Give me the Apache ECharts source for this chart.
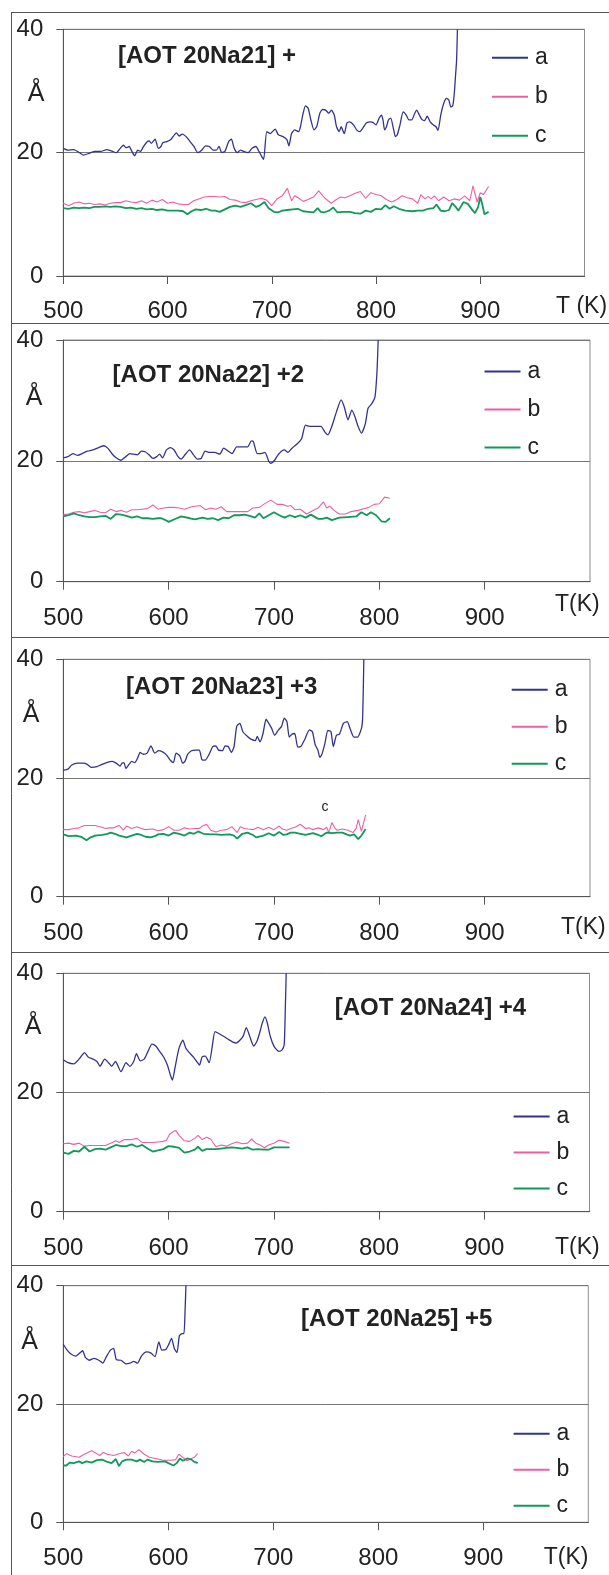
<!DOCTYPE html>
<html><head><meta charset="utf-8">
<script src="https://cdn.jsdelivr.net/npm/echarts@6/dist/echarts.min.js"></script>
<style>html,body{margin:0;padding:0;background:#fff}#c{width:609px;height:1575px}</style>
</head><body><div id="c"></div>
<script>
// ---- data: [T (K), spacing (Å)] ----
const titles = ['[AOT 20Na21] +', '[AOT 20Na22] +2', '[AOT 20Na23] +3', '[AOT 20Na24] +4', '[AOT 20Na25] +5'];
const xTickValues = [500, 600, 700, 800, 900];
const seriesNames = ['a', 'b', 'c'];

const p1a = [[500,20.7],[504.5,20.4],[510,20.5],[515.6,20.0],[519.3,19.6],[525,19.9],[530.5,20.2],[536,20.2],[541.6,20.5],[547.2,20.2],[551,20.0],[554.6,20.7],[557.6,21.2],[560.2,20.8],[563.2,21.0],[565.8,20.2],[568.4,19.5],[571.4,20.4],[574,20.2],[577,21.0],[580.7,21.8],[582.5,21.9],[584.4,21.5],[588.1,22.2],[591.1,20.7],[593.7,21.0],[595.5,21.6],[599.3,21.8],[603,22.1],[608.6,23.2],[611.2,22.7],[614.1,23.0],[617.8,22.6],[621.6,21.8],[625.3,21.0],[629,20.0],[632.7,20.4],[636.4,21.1],[640.1,21.0],[643.9,20.4],[646.8,20.4],[649.4,21.0],[652,20.0],[655,20.2],[658.7,21.8],[661.3,22.2],[663.9,20.7],[666.9,20.0],[669.9,20.4],[672.9,20.2],[677.3,20.0],[681,20.7],[684.8,21.0],[687.7,20.2],[690.3,19.4],[692.2,18.9],[695.2,23.4],[698.5,23.1],[703.3,23.8],[706.3,22.9],[710.8,22.6],[714.5,22.1],[716.4,21.1],[719,23.1],[722,23.7],[725.7,23.4],[727.5,24.2],[730.1,26.4],[732.3,27.6],[734.9,27.2],[737.5,25.3],[740.5,23.7],[743.1,24.2],[746.1,26.4],[748.7,27.0],[751.7,26.9],[754.6,26.4],[757.2,26.9],[759.9,26.1],[762.1,24.2],[764.7,23.4],[766.5,24.2],[769.5,23.1],[772.1,24.8],[774.7,25.0],[778.4,24.5],[781.4,23.7],[784.4,23.4],[787,23.9],[790.7,24.8],[794.4,25.0],[797,24.9],[800,24.5],[803,25.6],[805.2,26.1],[806.7,25.3],[808.2,23.7],[810,24.2],[811.9,25.3],[814.1,25.6],[816.7,23.9],[818.6,22.6],[820.4,22.9],[823,24.5],[826,26.6],[829,26.1],[831.6,25.3],[834.2,25.3],[837.2,26.4],[839,26.9],[841.6,26.1],[843.9,25.4],[846.5,25.2],[849.1,25.9],[852,25.0],[855,24.5],[857.6,24.2],[859.5,23.6],[862.1,26.1],[865,28.0],[867.7,28.8],[869.9,28.5],[871.7,27.4],[873.6,27.6],[875.1,29.6],[876.2,32.3],[877.3,35.0],[878.1,40]];
const p1b = [[500,11.8],[505,11.4],[510,11.8],[515,12.0],[520,11.7],[525,11.8],[530,11.6],[535,11.7],[540,11.5],[545,11.8],[550,11.9],[555,11.9],[560,12.2],[565,12.0],[570,11.9],[575,12.2],[580,11.8],[585,12.3],[590,12.0],[595,12.4],[600,11.8],[605,12.0],[610,11.7],[615,11.6],[620,11.6],[625,12.2],[630,12.5],[635,12.8],[640,12.9],[645,12.9],[650,12.8],[655,12.9],[660,12.4],[665,12.3],[670,12.0],[675,11.9],[680,12.2],[685,12.4],[690,12.6],[695,12.3],[700,11.4],[705,12.5],[710,13.0],[715,14.2],[719,12.2],[722,13.0],[726,12.6],[730,12.1],[735,12.4],[740,12.8],[745,13.8],[750,12.8],[754,12.2],[757,11.8],[762,12.4],[766,12.8],[770,12.7],[775,13.0],[780,13.4],[785,13.7],[790,12.6],[795,13.5],[800,13.2],[805,13.0],[810,12.4],[815,12.0],[820,12.4],[825,13.0],[830,12.7],[835,12.5],[840,11.8],[843,13.2],[847,12.5],[850,12.9],[853,12.5],[856,13.0],[860,12.2],[865,12.8],[870,12.2],[875,12.5],[880,12.3],[885,13.0],[890,12.2],[893,14.6],[897,12.0],[900,13.5],[903,13.2],[908,14.5]];
const p1c = [[500,11.0],[505,10.9],[510,11.1],[515,11.0],[520,11.1],[525,11.0],[530,11.2],[535,11.2],[540,11.3],[545,11.2],[550,11.3],[555,11.2],[560,11.0],[565,11.1],[570,10.9],[575,11.0],[580,10.8],[585,10.9],[590,10.7],[595,10.8],[600,10.6],[605,10.6],[610,10.6],[615,10.5],[619,10.0],[623,10.5],[627,10.8],[632,10.7],[637,10.9],[642,10.6],[646,10.6],[650,10.4],[655,10.8],[660,11.2],[665,11.4],[670,11.2],[675,11.5],[680,11.8],[685,11.2],[689,11.5],[693,12.0],[697,11.0],[702,10.4],[706,10.3],[710,10.6],[715,10.7],[720,10.8],[725,10.9],[730,10.5],[735,10.4],[740,10.3],[744,11.0],[747,10.4],[750,10.3],[755,10.6],[759,11.1],[763,10.3],[768,10.4],[775,10.4],[780,10.2],[785,10.1],[790,10.6],[795,10.4],[800,10.9],[805,10.8],[809,11.5],[813,10.9],[817,11.3],[822,10.9],[828,10.6],[835,10.5],[840,10.6],[845,10.6],[850,10.9],[855,11.0],[858,11.6],[862,10.6],[866,10.5],[870,10.7],[873,11.8],[876,11.3],[879,10.6],[884,12.0],[888,11.7],[892,10.8],[895,10.2],[898,11.2],[900,12.8],[902,11.6],[904,10.0],[908,10.4]];

const p2a = [[500,20.5],[504.4,20.7],[509.2,21.2],[513.6,20.9],[518,21.2],[522.7,21.6],[528.2,21.8],[533.7,22.2],[538.5,22.5],[542.2,22.1],[546.6,21.1],[550.2,20.5],[554.6,20.1],[559.4,20.7],[563.1,21.2],[566.7,21.1],[570.4,21.0],[574.1,21.6],[577.7,21.5],[581.4,21.0],[585.1,20.4],[588.7,20.7],[591.3,21.1],[594.2,20.5],[597.9,21.8],[601.6,22.2],[605.2,21.8],[608.9,20.7],[611.8,20.3],[615.5,21.0],[619.9,21.8],[623.6,21.0],[627.2,20.3],[630.9,20.4],[634.6,21.6],[638.2,21.4],[643.7,21.4],[648.5,21.1],[652.2,22.1],[656.6,21.6],[660.2,21.2],[664.6,22.3],[669.4,22.3],[674.9,22.3],[678.6,23.3],[680.4,23.2],[684.1,21.2],[687.7,21.2],[691.4,21.4],[695.1,19.9],[696.9,19.6],[700.6,20.1],[704.3,21.1],[709.8,21.8],[713.4,21.4],[717.1,22.1],[722.6,22.9],[726.3,23.7],[729.9,25.9],[733.6,25.7],[739,25.7],[744.6,25.7],[748.2,24.8],[751.2,24.3],[754.9,25.7],[759.3,28.1],[763.7,30.1],[766.6,29.0],[770.3,26.8],[773.9,28.4],[776.9,27.3],[779.4,25.9],[783.1,24.6],[786.8,26.2],[789.3,28.7],[793,29.5],[795.9,30.6],[797.8,34.8],[798.9,40]];
const p2b = [[500,11.1],[505,11.2],[510,11.5],[515,11.6],[520,11.4],[525,11.6],[530,11.8],[535,11.5],[540,11.4],[545,12.0],[550,11.6],[555,11.8],[560,11.5],[565,11.9],[570,11.9],[575,12.0],[580,12.1],[585,12.7],[590,12.0],[595,12.2],[600,12.3],[605,12.3],[610,12.2],[615,12.0],[622,12.4],[630,12.6],[635,11.9],[640,12.2],[645,12.0],[650,12.4],[655,11.6],[660,11.6],[665,11.6],[670,11.6],[675,11.6],[680,12.2],[686,12.3],[692,13.0],[697,13.5],[703,12.8],[708,12.8],[713,12.5],[716,12.6],[720,11.9],[725,12.0],[731,11.2],[737,11.8],[742,12.2],[747,13.2],[750,12.2],[753,12.5],[757,11.8],[762,11.2],[768,11.2],[773,11.6],[780,11.8],[786,12.1],[790,12.3],[795,12.8],[800,12.9],[805,14.0],[810,13.8]];
const p2c = [[500,10.8],[505,11.0],[510,11.3],[515,11.0],[520,10.8],[525,10.7],[530,10.7],[535,10.8],[540,10.9],[545,10.4],[550,11.2],[555,11.1],[560,10.9],[565,10.6],[570,10.8],[575,10.5],[580,10.5],[585,10.4],[590,10.5],[593,10.5],[597,10.2],[600,9.9],[605,10.3],[612,10.8],[620,10.5],[625,10.3],[632,10.6],[637,10.4],[642,10.5],[647,10.2],[652,10.6],[657,10.5],[662,11.0],[667,11.0],[672,11.1],[677,10.9],[682,10.6],[686,11.3],[690,10.5],[695,11.0],[700,11.5],[705,11.0],[710,10.6],[715,11.0],[720,10.7],[725,11.0],[730,10.6],[735,11.1],[742,10.4],[746,10.4],[750,10.6],[755,10.2],[762,10.6],[770,10.7],[778,10.8],[783,11.5],[788,11.0],[792,11.5],[797,11.0],[802,10.0],[806,9.9],[810,10.5]];

const p3a = [[500,21.3],[504.4,21.5],[508.1,22.2],[513.6,22.5],[519.1,22.5],[522.7,22.3],[526.4,21.8],[531.9,21.9],[535.6,22.2],[541.1,22.6],[546.6,22.8],[550.2,22.5],[553.9,22.0],[555.7,22.5],[557.6,22.6],[559.4,21.6],[562,22.2],[564.9,22.8],[567.8,22.6],[570.4,23.3],[573,24.3],[575.9,24.0],[579.6,24.2],[583.2,25.4],[586.9,24.2],[590.6,24.6],[594.2,24.4],[597.9,23.9],[601.6,23.0],[604.5,22.6],[607.1,24.2],[610.7,23.7],[613.3,22.5],[615.5,22.8],[618.1,24.0],[621.7,24.6],[625.4,24.7],[629.1,24.7],[631.6,23.1],[634.6,23.0],[638.2,23.9],[641.9,25.3],[644.8,25.4],[647.4,24.7],[651.1,24.6],[653.6,25.4],[656.6,25.3],[659.5,24.3],[662.1,25.3],[664.6,28.7],[667.6,29.2],[670.5,27.8],[674.9,27.0],[678.6,26.5],[682.3,26.3],[684.1,27.0],[686.7,26.1],[689.6,27.5],[692.5,29.9],[695.1,29.2],[697.7,28.4],[700.6,27.2],[704.3,28.1],[707.2,28.7],[709.8,30.1],[712.3,29.5],[714.5,26.9],[717.1,27.4],[719.7,27.5],[722.6,25.2],[725.5,25.3],[729.2,26.5],[733.6,28.1],[736.5,27.8],[739.1,25.6],[741.7,24.7],[743.5,23.5],[745.3,23.9],[748.3,25.8],[751.2,28.0],[754.1,27.8],[756.3,25.3],[759.3,27.2],[762.2,27.4],[765.9,29.2],[769.5,29.5],[772.1,28.4],[775.8,26.9],[779.4,26.9],[783.1,28.4],[784.2,30.3],[785.3,40]];
const p3b = [[500,11.3],[505,11.3],[510,11.5],[515,11.6],[520,12.0],[525,12.0],[530,12.0],[535,11.8],[540,11.5],[544,11.6],[548,11.6],[553,12.0],[557,11.2],[560,11.9],[565,11.5],[570,11.8],[574,11.5],[578,11.3],[585,11.4],[590,11.1],[595,11.3],[600,11.8],[605,11.2],[610,11.2],[615,11.6],[620,11.4],[625,11.5],[629,11.5],[632,11.9],[636,12.2],[640,11.2],[645,10.9],[650,11.2],[655,11.3],[660,11.8],[665,10.8],[668,11.8],[672,11.5],[675,11.4],[680,11.3],[685,11.7],[690,11.3],[695,11.7],[700,11.3],[705,11.9],[708,11.4],[712,11.2],[716,11.5],[720,11.7],[725,12.2],[730,11.5],[733,11.6],[737,11.3],[742,11.6],[747,11.3],[750,11.7],[752,10.8],[755,12.5],[758,11.5],[760,11.2],[765,11.4],[770,11.2],[775,10.8],[778,11.5],[780,13.0],[783,11.0],[787,13.8]];
const p3c = [[500,10.5],[505,10.2],[512,10.3],[517,10.1],[522,9.5],[526,10.0],[530,10.3],[537,10.4],[542,10.6],[545,10.8],[549,10.6],[553,10.3],[560,10.0],[565,10.3],[570,10.6],[574,10.4],[578,10.1],[583,10.0],[587,10.2],[590,10.5],[595,10.6],[600,10.3],[605,10.8],[610,10.6],[615,10.3],[620,10.8],[624,10.6],[628,11.0],[633,10.6],[640,10.5],[645,10.5],[650,10.4],[658,10.5],[662,10.3],[665,9.8],[670,10.6],[675,10.8],[680,10.4],[683,10.0],[690,10.3],[695,10.7],[700,10.3],[705,10.9],[709,10.4],[712,10.5],[716,10.8],[720,10.8],[725,10.6],[730,10.4],[734,10.6],[737,10.7],[742,10.4],[745,10.2],[750,10.8],[755,10.7],[760,10.8],[765,10.8],[769,10.5],[772,10.3],[776,10.5],[780,9.7],[783,10.3],[787,11.4]];

const p4a = [[500,25.5],[504.4,25.0],[509.9,24.8],[515.4,25.7],[520.2,26.7],[523.9,25.9],[528.3,25.6],[532,25.2],[534.9,24.4],[539.3,25.6],[543,25.0],[546,24.4],[549.6,25.2],[554.8,23.5],[559.6,25.0],[563.2,24.4],[566.9,25.2],[569.5,26.5],[573.2,25.3],[576.8,25.6],[580.5,26.9],[584.2,28.1],[587.9,27.8],[591.5,26.9],[595.2,26.0],[598.9,24.6],[601.8,22.9],[603.7,22.1],[606.3,24.3],[609.9,27.4],[613.6,28.8],[616.5,27.4],[620.2,26.6],[623.9,25.9],[627.6,25.0],[629.4,24.6],[632,26.0],[634.9,26.1],[638.6,25.0],[641.5,27.7],[644.1,30.2],[647.8,29.9],[652.6,29.4],[657,28.9],[660.7,28.5],[664.3,28.3],[668,28.8],[671,29.5],[673.9,30.9],[677.2,29.4],[680.9,27.8],[683.8,28.5],[686.4,29.9],[689,31.6],[691.5,32.7],[693.8,31.7],[696.7,29.4],[700.4,27.7],[704.8,26.9],[707.7,27.1],[709.9,28.0],[711,34.4],[711.8,40]];
const p4b = [[500,11.4],[505,11.5],[510,11.3],[515,11.5],[520,11.0],[525,11.1],[530,11.1],[535,11.1],[540,11.1],[545,11.5],[550,11.9],[553,11.6],[558,12.1],[565,12.1],[570,12.3],[575,11.6],[580,11.6],[585,11.6],[590,11.7],[595,11.8],[598,12.0],[601,13.0],[605,13.5],[607,13.6],[610,12.8],[615,11.9],[620,11.8],[625,12.3],[628,12.8],[632,12.1],[636,12.5],[640,12.2],[645,10.9],[650,11.2],[655,11.0],[660,11.4],[665,11.7],[670,11.4],[675,11.5],[679,12.2],[683,11.5],[688,11.1],[691,10.7],[695,11.2],[700,11.5],[705,12.0],[710,11.8],[715,11.5]];
const p4c = [[500,9.9],[505,9.7],[510,10.2],[515,10.1],[520,10.9],[525,10.1],[530,10.5],[535,10.6],[540,10.4],[545,10.8],[550,11.2],[555,11.0],[560,11.0],[565,11.3],[570,10.9],[575,11.2],[580,10.6],[585,10.1],[590,10.3],[595,10.5],[600,11.0],[605,10.9],[610,10.7],[615,9.9],[620,10.1],[625,10.4],[628,10.9],[632,10.2],[636,10.5],[640,10.5],[645,10.5],[650,10.6],[655,10.7],[660,10.8],[665,10.7],[670,10.6],[675,10.8],[680,10.4],[685,10.5],[690,10.4],[695,10.4],[700,10.8],[705,10.8],[715,10.8]];

const p5a = [[500,30.1],[503.3,29.2],[507,28.5],[511.8,28.1],[515.5,28.6],[518.4,29.0],[521,27.9],[524.7,27.4],[529.1,27.7],[533.9,27.4],[537.6,26.9],[541.3,28.1],[544.9,29.1],[547.9,29.4],[550.5,27.5],[554.9,27.4],[559.7,26.8],[563.4,26.9],[567,27.2],[570.7,26.9],[574.4,28.1],[579.2,28.8],[583.6,28.6],[587.3,28.0],[591,30.5],[593.9,29.1],[597.6,29.2],[600.2,30.0],[603.1,31.1],[605.7,29.4],[608.3,28.7],[610.5,31.5],[613.1,31.9],[614.9,31.9],[616,35.9],[616.8,40]];
const p5b = [[500,11.1],[503,11.6],[508,11.2],[515,11.0],[520,11.5],[527,12.1],[532,11.6],[535,11.3],[538,11.8],[542,11.5],[548,11.3],[553,11.6],[558,11.8],[562,11.2],[565,12.0],[568,11.7],[572,12.3],[577,11.5],[582,11.0],[588,10.8],[595,10.5],[603,10.5],[607,10.6],[610,11.5],[615,10.8],[618,10.4],[622,10.8],[625,11.0],[628,11.6]];
const p5c = [[500,9.6],[503,9.6],[506,10.1],[510,10.0],[515,10.3],[518,10.0],[522,10.3],[527,10.1],[532,10.5],[537,10.6],[542,10.2],[546,10.0],[550,10.7],[553,9.5],[556,10.3],[560,10.6],[565,10.6],[570,10.3],[573,10.6],[577,10.2],[580,10.6],[585,10.3],[590,10.2],[597,10.3],[600,10.0],[605,9.6],[608,10.0],[611,10.8],[614,10.4],[618,10.8],[622,10.6],[625,10.2],[628,10.0]];

const panelData = [[p1a,p1b,p1c],[p2a,p2b,p2c],[p3a,p3b,p3c],[p4a,p4b,p4c],[p5a,p5b,p5c]];
const xNames = ['T (K)', 'T(K)', 'T(K)', 'T(K)', 'T(K)'];

// ---- layout (px) ----
const FONT = '"Liberation Sans", Arial, sans-serif';
const grids = [
  {left:63.3, top:29.3, width:521.2, height:246.7},
  {left:63.3, top:340, width:526.7, height:241.7},
  {left:63.3, top:659.3, width:526.7, height:237.4},
  {left:63.3, top:973.3, width:526.2, height:238.4},
  {left:63.3, top:1285.7, width:525, height:236.6}
];
const titlePos = [[118,56.5],[112.6,375],[126,687],[334.8,1008],[301,1319]];
const legendPos = [[491,46.3,16],[483.5,360,15],[510.7,678.3,14],[512.6,1105,13],[512.6,1422.3,13]];
const angPos = [[36,94],[34,398],[31,715],[33,1027],[29.5,1342]];
const xNamePos = [[556,307],[555,605],[561,928],[555,1248],[543.7,1558]];
const labelMargin = [23,25,25,25,24];
const colors = {a:'#33338f', b:'#ec5fa6', c:'#11995a'};
const widths = {a:1.3, b:1.1, c:1.8};
const sepY = [12, 323, 637, 952, 1265];

const option = {
  animation:false,
  backgroundColor:'#fff',
  grid:[], xAxis:[], yAxis:[], series:[], legend:[], graphic:[]
};

grids.forEach((g,i)=>{
  option.grid.push({left:g.left, top:g.top, width:g.width, height:g.height, show:true, borderColor:'#8c8c8c', borderWidth:1, containLabel:false});
  option.xAxis.push({type:'value', gridIndex:i, min:500, max:1000, interval:100,
    axisLine:{show:true, lineStyle:{color:'#555', width:1}},
    axisTick:{show:true, length:8, customValues:xTickValues, lineStyle:{color:'#555'}},
    axisLabel:{customValues:xTickValues, margin:labelMargin[i], fontSize:24, color:'#222', fontFamily:FONT},
    splitLine:{show:false}});
  option.yAxis.push({type:'value', gridIndex:i, min:0, max:40, interval:20,
    axisLine:{show:true, lineStyle:{color:'#555', width:1}},
    axisTick:{show:true, length:7, lineStyle:{color:'#555'}},
    axisLabel:{margin:20, fontSize:24, color:'#222', fontFamily:FONT},
    splitLine:{show:true, lineStyle:{color:'#777', width:1}}});
  panelData[i].forEach((d,k)=>{
    const nm = seriesNames[k];
    option.series.push({type:'line', name:nm, xAxisIndex:i, yAxisIndex:i, data:d, symbol:'none',
      smooth: nm==='a' ? 0.2 : false, clip:true,
      lineStyle:{color:colors[nm], width:widths[nm]}, itemStyle:{color:colors[nm]}});
  });
  option.legend.push({data:seriesNames, orient:'vertical', left:legendPos[i][0], top:legendPos[i][1],
    itemWidth:36, itemHeight:14, itemGap:legendPos[i][2], padding:0, selectedMode:false,
    itemStyle:{opacity:0, borderWidth:0},
    textStyle:{fontSize:23, lineHeight:22, color:'#222', fontFamily:FONT, padding:[0,0,0,2]}});
  option.graphic.push({type:'text', x:titlePos[i][0], y:titlePos[i][1],
    style:{text:titles[i], font:'bold 24px '+FONT, fill:'#222', verticalAlign:'middle', align:'left'}});
  option.graphic.push({type:'text', x:angPos[i][0], y:angPos[i][1],
    style:{text:'Å', font:'25px '+FONT, fill:'#222', verticalAlign:'middle', align:'center'}});
  option.graphic.push({type:'text', x:xNamePos[i][0], y:xNamePos[i][1],
    style:{text:xNames[i], font:'23px '+FONT, fill:'#222', verticalAlign:'middle', align:'left'}});
});
// stray label in panel 3
option.graphic.push({type:'text', x:325, y:807, style:{text:'c', font:'14px '+FONT, fill:'#222', verticalAlign:'middle', align:'center'}});
// outer panel frames
option.graphic.push({type:'line', shape:{x1:11.5, y1:12, x2:11.5, y2:1575}, style:{stroke:'#555', lineWidth:1}});
sepY.forEach(y=>option.graphic.push({type:'line', shape:{x1:11, y1:y+0.5, x2:609, y2:y+0.5}, style:{stroke:'#555', lineWidth:1}}));

const chart = echarts.init(document.getElementById('c'), null, {renderer:'canvas'});
chart.setOption(option);
</script></body></html>
